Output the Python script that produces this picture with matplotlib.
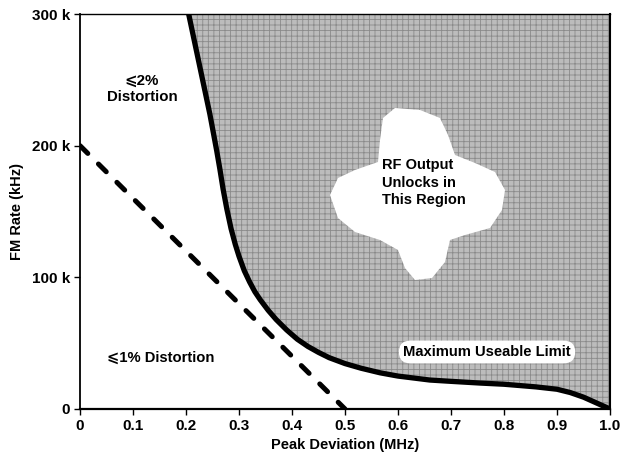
import matplotlib
matplotlib.use("Agg")
import matplotlib.pyplot as plt
from matplotlib.patches import Polygon

# ---- data ----
limit_x = [0.205, 0.215, 0.225, 0.235, 0.245, 0.252, 0.258, 0.264, 0.270, 0.277,
           0.285, 0.293, 0.300, 0.310, 0.320, 0.330, 0.340, 0.355, 0.370, 0.390,
           0.410, 0.430, 0.450, 0.470, 0.500, 0.530, 0.566, 0.600, 0.660, 0.700,
           0.755, 0.800, 0.830, 0.860, 0.900, 0.925, 0.950, 0.975, 1.000]
limit_y = [300, 281, 262, 243, 224, 209, 196, 182, 167, 152,
           137, 125, 116, 105, 96.5, 89, 83, 75, 68, 60,
           53, 47.5, 43, 39, 34.5, 31, 27.5, 25, 22, 21,
           19.7, 18.8, 17.8, 16.8, 15, 12.5, 9, 4.5, 0]  # kHz
dist1_x = [0.0, 0.5]
dist1_y = [200, 0]  # kHz
x_ticks = [0, 0.1, 0.2, 0.3, 0.4, 0.5, 0.6, 0.7, 0.8, 0.9, 1.0]
x_tick_labels = ["0", "0.1", "0.2", "0.3", "0.4", "0.5", "0.6", "0.7", "0.8", "0.9", "1.0"]
y_ticks = [0, 100, 200, 300]
y_tick_labels = ["0", "100 k", "200 k", "300 k"]

FONT = ["Liberation Sans", "DejaVu Sans"]
plt.rcParams['font.family'] = FONT
plt.rcParams['hatch.linewidth'] = 0.6

fig = plt.figure(figsize=(6.29, 4.57), dpi=100)
ax = fig.add_axes([80 / 629, 1 - 409 / 457, 530 / 629, 395 / 457])
ax.set_xlim(0, 1.0)
ax.set_ylim(0, 300)

# shaded unlock region
ax.fill_between(limit_x, limit_y, [300] * len(limit_y), facecolor="#bcbcbc",
                edgecolor="#8a8a8a", hatch="+++", linewidth=0, zorder=1)


def px2data(px, py):
    return ((px - 80) / 530, (409 - py) / 395 * 300)


# white cloud behind label (decorative shape, pixel outline)
cloud_px = [(383, 118), (395, 108), (420, 110), (440, 118), (448, 135), (455, 155),
            (475, 163), (495, 172), (505, 190), (502, 210), (490, 228), (465, 235),
            (450, 240), (445, 262), (432, 278), (415, 280), (405, 268), (398, 250),
            (380, 240), (355, 232), (338, 218), (330, 195), (338, 178), (355, 170),
            (378, 162), (380, 140)]
ax.add_patch(Polygon([px2data(*p) for p in cloud_px], closed=True, facecolor="white",
                     edgecolor="none", zorder=2))

ax.plot(limit_x, limit_y, color="black", lw=3.8, solid_capstyle="round",
        solid_joinstyle="round", zorder=4)
ax.plot(dist1_x, dist1_y, color="black", lw=3.6, dashes=(2.2, 3.0),
        dash_capstyle="round", zorder=4)

ax.text(0.570, 172, "RF Output\nUnlocks in\nThis Region", ha="left", va="center",
        fontsize=10.5, fontweight="bold", linespacing=1.35, zorder=5)
ax.text(0.768, 43.3, "Maximum Useable Limit", ha="center", va="center",
        fontsize=10.6, fontweight="bold", zorder=5,
        bbox=dict(boxstyle="round,pad=0.3,rounding_size=0.8", facecolor="white",
                  edgecolor="none"))
ax.text(0.117, 243, "\u2a7d2%\nDistortion", ha="center", va="center", fontsize=10.8,
        fontweight="bold", linespacing=1.2, family=FONT, zorder=5)
ax.text(0.051, 38.7, "\u2a7d1% Distortion", ha="left", va="center", fontsize=10.6,
        fontweight="bold", family=FONT, zorder=5)

ax.set_xticks(x_ticks)
ax.set_xticklabels(x_tick_labels)
ax.set_yticks(y_ticks)
ax.set_yticklabels(y_tick_labels)
ax.tick_params(direction="out", length=4, width=1, labelsize=11, pad=3)
for lab in ax.get_xticklabels() + ax.get_yticklabels():
    lab.set_fontweight("bold")

ax.set_xlabel("Peak Deviation (MHz)", fontsize=10.5, fontweight="bold", labelpad=4)
ax.set_ylabel("FM Rate (kHz)", fontsize=10.5, fontweight="bold", labelpad=6)

for side, lw in [("left", 1.3), ("bottom", 1.6), ("right", 1.5), ("top", 1.0)]:
    ax.spines[side].set_linewidth(lw)
    ax.spines[side].set_color("black")
    ax.spines[side].set_zorder(6)

fig.savefig("out.png", dpi=100)
